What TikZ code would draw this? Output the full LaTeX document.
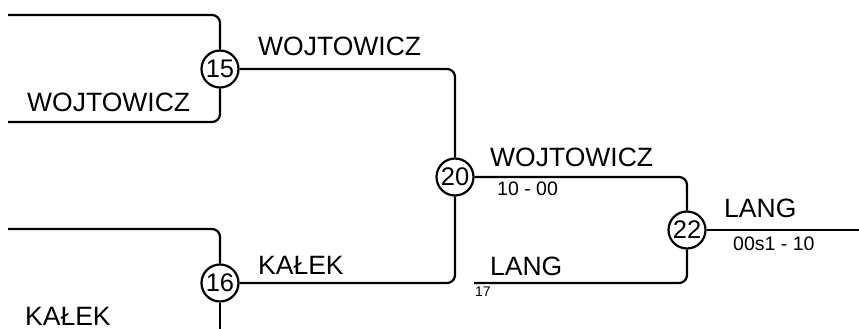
\documentclass[tikz,border=0pt]{standalone}
\usepackage{fontspec}
\setmainfont{Liberation Sans}
\begin{document}
\begin{tikzpicture}[x=1pt,y=-1pt,
  seedc/.style={circle,draw,line width=2.2pt,minimum size=37pt,inner sep=0pt,font=\fontsize{25.5}{27}\selectfont},
  conn/.style={line width=2.2pt,rounded corners=8pt},
  pname/.style={anchor=base west,inner sep=0pt,font=\fontsize{26.5}{30}\selectfont},
  pscore/.style={anchor=base west,inner sep=0pt,font=\fontsize{19.5}{21}\selectfont},
  psmall/.style={anchor=base west,inner sep=0pt,font=\fontsize{14}{15}\selectfont}]
\useasboundingbox (0,0) rectangle (859,329);
\node[seedc] (c15) at (220,69) {15};
\node[seedc] (c16) at (220,283) {16};
\node[seedc] (c20) at (455,177) {20};
\node[seedc] (c22) at (687,230) {22};
\coordinate (t15) at (8,15);
\coordinate (b15) at (8,122);
\coordinate (t16) at (8,229);
\coordinate (b16) at (220,340);
\coordinate (fin) at (859,230);
\coordinate (e17) at (474,283);
\draw[conn] (t15) -| (c15);
\draw[conn] (b15) -| (c15);
\draw[conn] (t16) -| (c16);
\draw[conn] (c16) -- (b16);
\draw[conn] (c15) -| (c20);
\draw[conn] (c16) -| (c20);
\draw[conn] (c20) -| (c22);
\draw[conn] (c22) |- (e17);
\draw[conn] (c22) -- (fin);
\node[pname] (n1) at (27,111) {WOJTOWICZ};
\node[pname] (n2) at (25,325) {KAŁEK};
\node[pname] (n3) at (258,56) {WOJTOWICZ};
\node[pname] (n4) at (258,274) {KAŁEK};
\node[pname] (n5) at (490,166) {WOJTOWICZ};
\node[pscore] (s1) at (497,195) {10 - 00};
\node[pname] (n6) at (724,217) {LANG};
\node[pscore] (s2) at (733,250) {00s1 - 10};
\node[pname] (n7) at (490,275) {LANG};
\node[psmall] (s3) at (475,296) {17};
\end{tikzpicture}
\end{document}
